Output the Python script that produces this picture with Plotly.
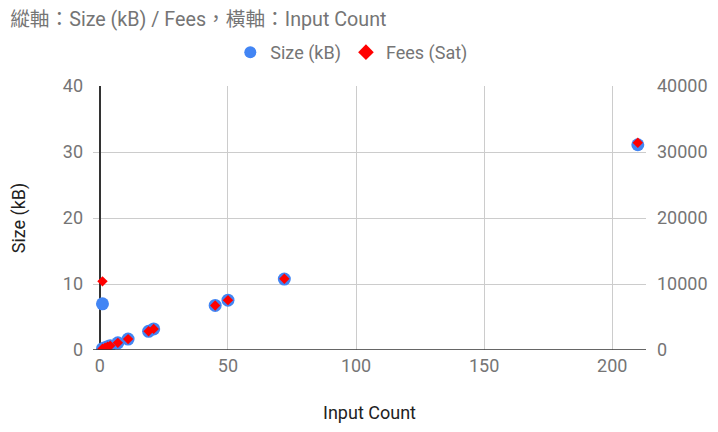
import plotly.graph_objects as go

input_count = [1, 1, 2, 3, 4, 7, 11, 19, 21, 45, 50, 72, 210]
size_kb = [7.0, 0.2, 0.35, 0.5, 0.65, 1.08, 1.65, 2.83, 3.2, 6.75, 7.55, 10.75, 31.1]
fees_sat = [10400, 200, 350, 500, 650, 1080, 1650, 2850, 3200, 6750, 7550, 10800, 31400]

left_ticks = [0, 10, 20, 30, 40]
right_ticks = [0, 10000, 20000, 30000, 40000]
x_ticks = [0, 50, 100, 150, 200]

FONT = "Roboto, 'Noto Sans CJK TC', sans-serif"
GRAY = "#757575"

fig = go.Figure()
fig.add_trace(go.Scatter(
    x=input_count, y=size_kb, mode="markers", name="Size (kB)",
    marker=dict(color="#4285f4", size=13, symbol="circle"),
    yaxis="y"))
fig.add_trace(go.Scatter(
    x=input_count, y=fees_sat, mode="markers", name="Fees (Sat)",
    marker=dict(color="#ff0000", size=8, symbol="diamond"),
    yaxis="y2"))

# page body has an 8px margin, so the figure is 710x424
fig.update_layout(
    width=710, height=424,
    margin=dict(l=85, r=72, t=78, b=82, autoexpand=False),
    paper_bgcolor="white", plot_bgcolor="white",
    font=dict(family=FONT, color=GRAY, size=18),
    title=dict(text="縱軸：Size (kB) / Fees，橫軸：Input Count",
               x=0.003, xanchor="left", y=0.973, yanchor="middle",
               font=dict(size=19.7, color=GRAY)),
    legend=dict(orientation="h", x=0.468, xanchor="center", y=1.127, yanchor="middle",
                font=dict(size=18, color=GRAY), itemsizing="constant"),
    showlegend=True,
    xaxis=dict(range=[-2.7, 213.2], tickvals=x_ticks,
               showgrid=True, gridcolor="#cccccc", zeroline=True,
               zerolinecolor="#333333", zerolinewidth=1.5,
               showline=False, ticks="", ticklabelstandoff=3,
               tickfont=dict(size=18, color=GRAY),
               title=dict(text="Input Count", font=dict(size=18, color="#222222"), standoff=31)),
    yaxis=dict(range=[0, 40], tickvals=left_ticks,
               showgrid=True, gridcolor="#cccccc", zeroline=False,
               showline=False, ticks="", ticklabelstandoff=9,
               tickfont=dict(size=18, color=GRAY),
               title=dict(text="Size (kB)", font=dict(size=18, color="#222222"), standoff=34)),
    yaxis2=dict(range=[0, 40000], tickvals=right_ticks, ticktext=[str(v) for v in right_ticks],
                overlaying="y", side="right", showgrid=False, zeroline=False,
                showline=False, ticks="", ticklabelstandoff=10,
                tickfont=dict(size=18, color=GRAY)),
)
fig.add_shape(type="line", xref="paper", yref="y", x0=0, x1=1, y0=0, y1=0,
              line=dict(color="#333333", width=1.5))

fig.write_html("out.html")
